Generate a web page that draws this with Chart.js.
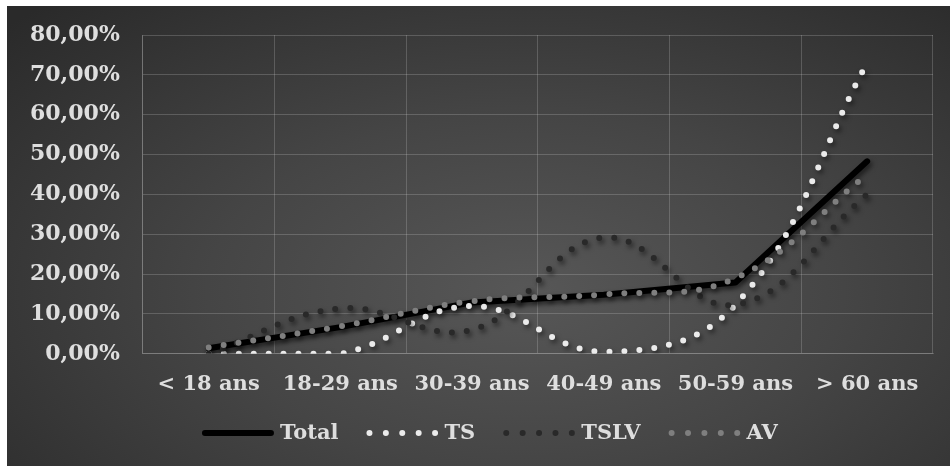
<!DOCTYPE html>
<html>
<head>
<meta charset="utf-8">
<script src="https://cdn.jsdelivr.net/npm/chart.js@4.4.0/dist/chart.umd.min.js"></script>
<style>
  html, body { margin: 0; padding: 0; background: #fff; }
  #cadre {
    position: absolute; left: 7px; top: 6px; width: 943px; height: 460px;
    background: radial-gradient(ellipse 75% 85% at 55% 62%, #575757 0%, #454545 45%, #2a2a2a 100%);
  }
</style>
</head>
<body>
<div id="cadre"><canvas id="tranches_age"></canvas></div>
<script>
// tranches d'age (%)
const categories = ['< 18 ans', '18-29 ans', '30-39 ans', '40-49 ans', '50-59 ans', '> 60 ans'];
const total = [1.4, 6.7, 12.9, 14.8, 17.9, 48.3];
const ts = [0, 0, 12, 0.5, 12.3, 73];
const tslv = [0, 11.4, 6, 29.2, 12.3, 40];
const av = [1.6, 6.9, 13.2, 14.9, 19, 45];
const yTicks = [0, 10, 20, 30, 40, 50, 60, 70, 80];

const texte = '#dedede';
const grille = 'rgba(217, 217, 217, 0.22)';
const police = { family: 'DejaVu Serif', weight: 'bold', size: 21 };

// ombre sous les courbes
const ombre = {
  id: 'ombre',
  beforeDatasetDraw(chart) {
    const c = chart.ctx;
    c.save();
    c.shadowColor = 'rgba(0, 0, 0, 0.55)';
    c.shadowBlur = 5;
    c.shadowOffsetX = 2;
    c.shadowOffsetY = 3;
  },
  afterDatasetDraw(chart) {
    chart.ctx.restore();
  }
};

// legende en bas, dessinee a la main (trait + pointilles)
const legende = {
  id: 'legende',
  afterDraw(chart) {
    const c = chart.ctx;
    const ech = 66, gap = 6, esp = 28;
    c.save();
    c.font = 'bold 21px "DejaVu Serif"';
    c.textBaseline = 'middle';
    const items = chart.data.datasets.map(function (ds) {
      return { ds: ds, w: c.measureText(ds.label).width };
    });
    let largeur = esp * (items.length - 1);
    items.forEach(function (it) { largeur += ech + 6 + gap + it.w; });
    let x = chart.width * 0.512 - largeur / 2;
    const y = chart.height - 33;
    items.forEach(function (it) {
      c.beginPath();
      c.lineWidth = 6;
      c.lineCap = 'round';
      c.strokeStyle = it.ds.borderColor;
      c.setLineDash(it.ds.legendDash);
      c.moveTo(x + 3, y);
      c.lineTo(x + 3 + ech, y);
      c.stroke();
      c.setLineDash([]);
      c.fillStyle = texte;
      c.fillText(it.ds.label, x + ech + 6 + gap, y + 1);
      x += ech + 6 + gap + it.w + esp;
    });
    c.restore();
  }
};

const ctx = document.getElementById('tranches_age').getContext('2d');
const myChart = new Chart(ctx, {
    type: 'line',
    data: {
        labels: categories,
        datasets: [{
            label: 'Total',
            data: total,
            borderColor: '#000000',
            borderWidth: 6,
            borderCapStyle: 'round',
            borderJoinStyle: 'round',
            tension: 0,
            pointRadius: 0,
            order: 4,
            legendDash: []
        }, {
            label: 'TS',
            data: ts,
            borderColor: '#ebebeb',
            borderWidth: 6,
            borderDash: [0, 15],
            borderCapStyle: 'round',
            tension: 0.4,
            pointRadius: 0,
            order: 3,
            legendDash: [0, 16.4]
        }, {
            label: 'TSLV',
            data: tslv,
            borderColor: '#292929',
            borderWidth: 6,
            borderDash: [0, 15],
            borderCapStyle: 'round',
            tension: 0.4,
            pointRadius: 0,
            order: 2,
            legendDash: [0, 16.4]
        }, {
            label: 'AV',
            data: av,
            borderColor: '#7f7f7f',
            borderWidth: 6,
            borderDash: [0, 15],
            borderCapStyle: 'round',
            tension: 0.4,
            pointRadius: 0,
            order: 1,
            legendDash: [0, 16.4]
        }]
    },
    options: {
        responsive: true,
        maintainAspectRatio: false,
        animation: false,
        layout: {
          padding: { left: 0, right: 17, top: 29, bottom: 51 }
        },
        scales: {
          x: {
            offset: true,
            grid: { offset: true, color: grille, drawTicks: false },
            border: { color: grille },
            ticks: { color: texte, font: police, padding: 18, maxRotation: 0 }
          },
          y: {
            min: 0,
            max: 80,
            afterBuildTicks: function (scale) {
              scale.ticks = yTicks.map(function (v) { return { value: v }; });
            },
            grid: { color: grille, drawTicks: false },
            border: { color: grille },
            ticks: {
              color: texte,
              font: { family: 'DejaVu Serif', weight: 'bold', size: 22, lineHeight: 0.5 },
              padding: 23,
              callback: function (value) {
                return value.toFixed(2).replace('.', ',') + '%';
              }
            }
          }
        },
        plugins: {
          tooltip: { enabled: false },
          legend: { display: false }
        }
      },
    plugins: [ombre, legende]
    });
</script>
</body>
</html>
